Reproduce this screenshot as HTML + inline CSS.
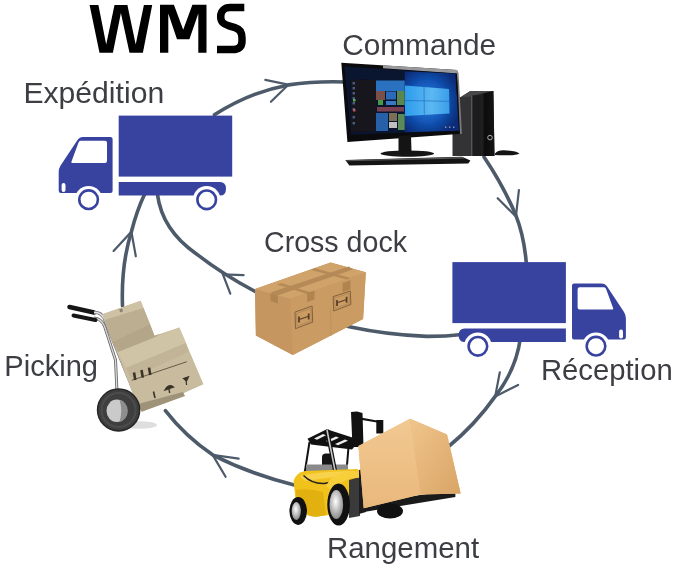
<!DOCTYPE html>
<html><head><meta charset="utf-8">
<style>
html,body{margin:0;padding:0;background:#fff;width:677px;height:569px;overflow:hidden}
svg{display:block;will-change:transform}
.lbl{font-family:"Liberation Sans",sans-serif;font-size:29px;fill:#3d3e43}
.arc{fill:none;stroke:#4d5a6a;stroke-width:3.6;stroke-linecap:round}
.barb{fill:none;stroke:#4d5a6a;stroke-width:2.2;stroke-linecap:round}
</style></head>
<body>
<svg width="677" height="569" viewBox="0 0 677 569">
<defs>
  <g id="truck">
    <rect x="118.7" y="115.6" width="113.5" height="61" fill="#3843a0"/>
    <path d="M118.7 182 H220 Q226 182 226 188.7 Q226 195.5 220 195.5 H118.7 Z" fill="#3843a0"/>
    <path d="M112.6 139 Q112.6 136.9 110.5 136.9 H83 Q79.5 136.9 77.5 140 L60.6 165.5 Q58.7 168.5 58.7 172 V190.5 Q58.7 193 61 193 H110.5 Q112.6 193 112.6 191 Z" fill="#3843a0"/>
    <path d="M80.5 140.7 H105 Q107 140.7 107 142.7 V161 Q107 163 105 163 H73 Q70.5 163 71.8 160.7 L78.5 142.5 Q79.2 140.7 80.5 140.7 Z" fill="#fff"/>
    <rect x="61.6" y="183" width="3.9" height="9" rx="1.9" fill="#fff"/>
    <circle cx="88.6" cy="199.7" r="13.8" fill="#fff"/>
    <circle cx="206.7" cy="199.8" r="13.8" fill="#fff"/>
    <circle cx="88.6" cy="199.7" r="9.3" fill="#fff" stroke="#3843a0" stroke-width="2.6"/>
    <circle cx="206.7" cy="199.8" r="9.3" fill="#fff" stroke="#3843a0" stroke-width="2.6"/>
  </g>
</defs>

<!-- arcs -->
<path class="arc" d="M214.4 114.8 Q250 92 288.6 84.9 Q315 81 345 82"/>
<path class="barb" d="M265.3 79.9 L288.4 84.7 L270.9 101.8"/>

<path class="arc" d="M484 157 Q503 185 515.9 215.3 Q524 236 526.2 262"/>
<path class="barb" d="M497.7 198.2 L515.9 216.5 L518.9 190.2"/>

<path class="arc" d="M520.4 338 Q516 370 495.2 396.4 Q475 425 448 447"/>
<path class="barb" d="M499.8 372.3 L495.2 396.4 L518.1 384.9"/>

<path class="arc" d="M296 485.5 Q250 474 212.6 454.8 Q185 436 165.4 410.6"/>
<path class="barb" d="M238.7 458.6 L212.6 454.8 L225.6 476.8"/>

<path class="arc" d="M122.5 306 Q121 265 131.4 231.7 Q137 210 144.7 194"/>
<path class="barb" d="M113.6 250.9 L131.4 231.7 L135.8 256.2"/>

<path class="arc" d="M157.4 194 Q162 230 196.4 253.9 Q222 274 256 292"/>
<path class="barb" d="M243.6 275.1 L222.9 274.5 L230.3 293.7"/>

<path class="arc" d="M348 326.5 Q388 335 426.8 336.4 Q445 336.5 462 334.5"/>


<!-- computer -->
<defs>
  <radialGradient id="desk" cx="0.42" cy="0.5" r="0.6">
    <stop offset="0" stop-color="#2a8ae0"/>
    <stop offset="0.55" stop-color="#1356b8"/>
    <stop offset="1" stop-color="#082c78"/>
  </radialGradient>
  <linearGradient id="logo" x1="0" y1="0" x2="1" y2="0">
    <stop offset="0" stop-color="#2c9cec"/>
    <stop offset="0.6" stop-color="#5cb8f2"/>
    <stop offset="1" stop-color="#3a9ee8"/>
  </linearGradient>
  <linearGradient id="towerfront" x1="0" y1="0" x2="1" y2="0">
    <stop offset="0" stop-color="#2a2a2c"/>
    <stop offset="0.45" stop-color="#222"/>
    <stop offset="0.6" stop-color="#0c0c0c"/>
    <stop offset="1" stop-color="#151515"/>
  </linearGradient>
</defs>
<filter id="soft" x="-5%" y="-5%" width="110%" height="110%"><feGaussianBlur stdDeviation="0.6"/></filter>
<clipPath id="scr"><polygon points="344.4,66.4 455.5,73.5 459,130.7 351,134.8"/></clipPath>
<g id="computer">
  <!-- tower -->
  <polygon points="452.5,100 461.2,96.8 470.4,90.9 493.4,90.9 494.5,156 452.5,156" fill="#333335"/>
  <polygon points="461.2,96.8 470.4,90.9 493.4,90.9 484,96.8" fill="#48484a"/>
  <polygon points="471,96 493.4,90.9 494.5,156 471,156" fill="url(#towerfront)"/>
  <rect x="471" y="96" width="1.6" height="60" fill="#555"/>
  <rect x="472.6" y="95.5" width="8" height="60.5" fill="#1c1c1e"/>
  <circle cx="490" cy="137.6" r="2.3" fill="none" stroke="#aaa" stroke-width="1"/>
  <path d="M495 153.5 Q498 150 504 150.3 Q516 150.5 519.5 153.5 Q517 155.5 505 155.3 Q499 155.3 495 155 Z" fill="#141414"/>
  <!-- monitor -->
  <polygon points="341.3,62.7 457,70.1 462,133.8 347.4,142" fill="#0b0b0d"/>
  <polygon points="383,65.2 457,70.1 458.5,73.5 383,68.2" fill="#9a9a9e"/>
  <polygon points="457,70.1 458.5,73.5 462,133.8 460,134" fill="#7a7a7e"/>
  <polygon points="344.4,66.4 455.5,73.5 459,130.7 351,134.8" fill="#0a1530"/>
  <g filter="url(#soft)" clip-path="url(#scr)">
  <polygon points="404.7,71.5 455.5,73.5 459,130.7 404.7,132.2" fill="url(#desk)"/>
  <polygon points="405,85.5 449,89 449.5,113.5 405,116" fill="url(#logo)"/>
  <path d="M405 100.5 L449.3 101.3 M424 87 L424.3 114.8" stroke="#1a5fb0" stroke-width="0.8" opacity="0.7"/>
  <polygon points="350.7,79.6 376,80 376,131.5 351,132" fill="#15121a"/>
  <rect x="376" y="80.5" width="28.7" height="10.5" fill="#2a72c0"/>
  <rect x="376" y="91" width="9" height="9" fill="#7a5048"/>
  <rect x="378" y="100" width="5" height="5" fill="#4a9a44"/>
  <rect x="386" y="91.5" width="10" height="8" fill="#2a6ab8"/>
  <rect x="397" y="91" width="7.7" height="14" fill="#5a8650"/>
  <rect x="386" y="101" width="10" height="4" fill="#3a78c0"/>
  <rect x="377" y="107" width="27" height="4.5" fill="#7a4050"/>
  <rect x="376" y="113" width="12" height="18" fill="#2860a8"/>
  <rect x="389" y="113" width="8" height="8" fill="#7a7058"/>
  <rect x="389" y="122" width="8" height="6" fill="#c0c0c0"/>
  <rect x="398" y="114" width="6.7" height="16" fill="#5a8a58"/>
  <g fill="#5a7ab0" opacity="0.7">
    <rect x="352.5" y="82" width="2.5" height="2.5"/><rect x="352.5" y="87" width="2.5" height="2.5"/>
    <rect x="352.5" y="92" width="2.5" height="2.5"/><rect x="352.5" y="97" width="2.5" height="2.5"/>
    <rect x="352.5" y="102" width="2.5" height="2.5"/><rect x="352.5" y="108" width="2.5" height="2.5"/>
    <rect x="352.5" y="116" width="2.5" height="2.5"/><rect x="352.5" y="122" width="2.5" height="2.5"/>
  </g>
  <rect x="353" y="99" width="2.5" height="2.5" fill="#5ab05a"/>
  <rect x="353" y="109" width="2.5" height="2.5" fill="#c05858"/>
  <g fill="#ccc" opacity="0.7"><rect x="445" y="126.5" width="1.4" height="1.4"/><rect x="449" y="126.5" width="1.4" height="1.4"/><rect x="453" y="126.5" width="1.4" height="1.4"/></g>
  </g>
  <!-- stand -->
  <polygon points="398.5,136 411,135 411.5,151.8 398.5,151.8" fill="#141414"/>
  <ellipse cx="407.3" cy="153.6" rx="26.8" ry="3.2" fill="#151515"/>
  <!-- keyboard -->
  <polygon points="345.3,160 462,156.8 470.4,160.5 468.3,163.5 349.4,165.5" fill="#141414"/>
  <polygon points="346,160.3 462,157.1 465,158.5 347,161.3" fill="#555"/>
</g>


<!-- cross dock box -->
<g id="xbox">
  <polygon points="255,289 330.6,262.6 365.8,272.3 363.1,318.9 292.8,355 255.9,335.6" fill="#c89962"/>
  <polygon points="255,289 290.2,298.7 292.8,355 255.9,335.6" fill="#c59660"/>
  <polygon points="290.2,298.7 365.8,272.3 363.1,318.9 292.8,355" fill="#ca9b63"/>
  <polygon points="255,289 330.6,262.6 365.8,272.3 290.2,298.7" fill="#d0a36b"/>
  <line x1="330.6" y1="308" x2="331" y2="336" stroke="#b88a55" stroke-width="0.6"/>
  <!-- long tape -->
  <polygon points="270.6,292.5 348.8,266.4 352.8,269.6 274.6,296.5" fill="#b68a56"/>
  <polygon points="270.3,293.4 277.8,295.8 277.9,303.5 270.6,301" fill="#b0844f"/>
  <!-- cross tapes -->
  <polygon points="276.9,284.5 281.3,283 315.2,293.8 310.9,295.3" fill="#b68a56"/>
  <polygon points="307.2,293 314.6,290.5 314.4,299.5 307.2,302" fill="#b0844f"/>
  <polygon points="310.5,269.7 314.9,268.2 350.8,278 346.4,279.6" fill="#b68a56"/>
  <polygon points="342.7,283 350.5,280.3 350.4,289.5 342.6,292.2" fill="#b0844f"/>
  <!-- labels -->
  <polygon points="295,312.1 312.1,306 312.7,322.1 295.5,328.7" fill="none" stroke="#7a5a38" stroke-width="0.9"/>
  <polygon points="296.5,313.5 310.8,308.3 311.3,320.8 297,326.3" fill="none" stroke="#9a7448" stroke-width="0.5"/>
  <path d="M299.2 319.5 L308.8 316.2" stroke="#5a4028" stroke-width="1.2"/>
  <path d="M299 316.5 V322.5 M308.7 313.5 V319.5" stroke="#5a4028" stroke-width="1.8"/>
  <polygon points="333.2,296.6 350.3,291.1 350.9,304.4 333.7,311" fill="none" stroke="#7a5a38" stroke-width="0.9"/>
  <polygon points="334.7,298 349,293.3 349.5,303.2 335.2,308.7" fill="none" stroke="#9a7448" stroke-width="0.5"/>
  <path d="M337.2 302.8 L346.8 299.5" stroke="#5a4028" stroke-width="1.2"/>
  <path d="M337 300 V306 M346.6 296.8 V302.8" stroke="#5a4028" stroke-width="1.8"/>
</g>

<!-- hand truck -->
<g id="handtruck">
  <ellipse cx="139" cy="425" rx="18" ry="3.8" fill="#dedede"/>
  <!-- back rail -->
  <path d="M94 318 Q101 318.5 104.5 326 L115.5 360 L117 392" fill="none" stroke="#6a6a6a" stroke-width="3"/>
  <path d="M94 318 Q101 318.5 104.5 326 L115.5 360 L117 392" fill="none" stroke="#d8d8d8" stroke-width="1.3"/>
  <!-- handles -->
  <path d="M69.5 307 L94 312.5" stroke="#161616" stroke-width="4.6" stroke-linecap="round"/>
  <path d="M73.5 315.5 L95.5 320" stroke="#161616" stroke-width="4" stroke-linecap="round"/>
  <!-- front rail -->
  <path d="M94 312.5 Q100.5 312 104 318 L139 404" fill="none" stroke="#777" stroke-width="3.2"/>
  <path d="M94 312.5 Q100.5 312 104 318 L139 404" fill="none" stroke="#e4e4e4" stroke-width="1.5"/>
  <!-- boxes -->
  <polygon points="102.5,314.3 140.6,300.8 154.5,335.7 179.3,327.5 203.5,384.3 141.7,411.8 136,402" fill="#c8bb9e"/>
  <polygon points="102.5,314.3 140.6,300.8 143.5,308 104.5,320" fill="#cec2a4"/>
  <polygon points="104.5,320 143.5,308 150,324 112,342" fill="#bcae90"/>
  <polygon points="112,342 150,324 154.5,335.7 160,333.7 130,355 118,352" fill="#b4a688"/>
  <polygon points="118,352 179.3,327.5 186,343 126,368" fill="#d0c4a6"/>
  <polygon points="126,368 186,343 188.5,352 131,378" fill="#c2b497"/>
  <polygon points="138,404 183,392 185,396 141.7,411.8" fill="#9e9278"/>
  <line x1="131.7" y1="380.3" x2="186.8" y2="361.7" stroke="#5a5040" stroke-width="0.9"/>
  <path d="M135.3 380 L134 372.5 M142.8 377.6 L141.5 370 M150.3 375 L149 367.6" stroke="#3a3428" stroke-width="2.6"/>
  <path d="M165 390 Q168.5 383.5 173.4 387 Z M169 388.5 L169.6 393" stroke="#3a3428" stroke-width="1.4" fill="#3a3428"/>
  <path d="M183.5 378.5 L188.5 376.8 L186.5 381 Z M186 380.5 L186.6 385" stroke="#3a3428" stroke-width="1.2" fill="#3a3428"/>
  <path d="M153.5 391.5 L155 398" stroke="#3a3428" stroke-width="1.6"/>
  <rect x="119.5" y="309" width="3" height="3" fill="#8a8070" transform="rotate(-20 121 310)"/>
  <!-- wheel -->
  <ellipse cx="118.6" cy="410" rx="21.1" ry="21" fill="#3e3e3e"/>
  <ellipse cx="118.6" cy="410" rx="17" ry="17" fill="none" stroke="#4c4c4c" stroke-width="2"/>
  <ellipse cx="118.6" cy="410" rx="21.1" ry="21" fill="none" stroke="#252525" stroke-width="1.4"/>
  <ellipse cx="116.8" cy="410.8" rx="10.3" ry="11.2" fill="#cacaca"/>
  <path d="M119.5 399.8 A10.3 11.2 0 0 1 119.5 421.8 Q123 410.8 119.5 399.8 Z" fill="#8e8e8e"/>
</g>

<!-- forklift -->
<defs>
  <linearGradient id="fkfront" x1="0" y1="0" x2="0" y2="1">
    <stop offset="0" stop-color="#f2c992"/>
    <stop offset="1" stop-color="#e9b87c"/>
  </linearGradient>
  <linearGradient id="fkside" x1="0" y1="0" x2="1" y2="1">
    <stop offset="0" stop-color="#f0c58b"/>
    <stop offset="1" stop-color="#d9a466"/>
  </linearGradient>
  <radialGradient id="hub" cx="0.45" cy="0.4" r="0.6">
    <stop offset="0" stop-color="#ffffff"/>
    <stop offset="1" stop-color="#8a8a8a"/>
  </radialGradient>
</defs>
<g id="forklift">
  <!-- mast -->
  <polygon points="351,412 357,411.5 362.5,413 363.5,447 352.5,447" fill="#111"/>
  <rect x="376.3" y="420" width="7" height="13.5" fill="#111"/>
  <polygon points="362,417.8 377,420.5 377,422.5 362,420" fill="#111"/>
  <!-- roof -->
  <polygon points="307.5,438.8 326.8,429.2 360,440 352,449.5 311,444.5" fill="#111"/>
  <polygon points="314,438.5 323,434 326,435.3 317,439.8" fill="#eee"/>
  <polygon points="326,441 336,436.5 339,437.8 329,442.3" fill="#eee"/>
  <polygon points="335,444 345,439.5 348,440.8 338,445.3" fill="#eee"/>
  <!-- posts -->
  <path d="M309.5 442 L304.5 474" stroke="#111" stroke-width="2"/>
  <path d="M348.5 447 L346.5 471" stroke="#111" stroke-width="2"/>
  <path d="M322 471 L322 457 Q322 453.5 326 453.5 L329 453.5 Q332 453.5 332 457 L332 471 Z" fill="#151515"/>
  <rect x="306" y="464.5" width="42" height="7" fill="#8a8a8a"/>
  <path d="M327 430 L335.5 473" stroke="#111" stroke-width="4"/>
  <path d="M327 430 L335.5 473" stroke="#c8c8c8" stroke-width="1.6"/>
  <!-- body -->
  <path d="M293.5 481 Q296 472.5 305 471 L357 469 L361 471.5 L361 508 Q340 514 318 516.5 Q308 517.5 303 511 L295.5 499 Z" fill="#f2c21c"/>
  <path d="M300 476 Q320 471 357 471 L358 475 Q330 477 305 481 Z" fill="#f7d24a"/>
  <path d="M295.5 490 L297 500 L303 511 Q308 517.5 318 516.5 L326 515 L323 492 Q310 488 295.5 490 Z" fill="#e2b110"/>
  <path d="M303.5 475.5 Q312 484 324 483.5 Q340 482 356 472.5" fill="none" stroke="#222" stroke-width="1.5"/>
  <path d="M349 480 L360 477 L360 516 L349 518 Z" fill="#3a3a3a"/>
  <path d="M326 486 Q333 472 350 472 L360 472 L360 478 Q352 477 346 480 Q338 484 334 492 Z" fill="#f6cf3a"/>
  <!-- wheels -->
  <ellipse cx="298.2" cy="511" rx="8.8" ry="13.9" fill="#111"/>
  <ellipse cx="296.3" cy="511" rx="4.6" ry="9" fill="url(#hub)"/>
  <ellipse cx="338.6" cy="504.5" rx="11.3" ry="21" fill="#111"/>
  <ellipse cx="336.3" cy="504.5" rx="6.8" ry="14.5" fill="url(#hub)"/>
  <!-- under carriage -->
  <polygon points="359,470 366,468 366,512 359,514" fill="#1c1c1c"/>
  <polygon points="363.7,503 455.4,490 455.4,497 363.7,512" fill="#1a1a1a"/>
  <ellipse cx="390" cy="511" rx="13" ry="7.5" fill="#111"/>
  <!-- box -->
  <polygon points="358.4,446.1 410.1,418.7 447,434.5 460.7,493.6 420.6,494.6 363.7,508.3" fill="#e6b77c"/>
  <polygon points="358.4,446.1 410.1,418.7 420.6,494.6 363.7,508.3" fill="url(#fkfront)"/>
  <polygon points="410.1,418.7 447,434.5 460.7,493.6 420.6,494.6" fill="url(#fkside)"/>
</g>

<!-- trucks -->
<use href="#truck"/>
<use href="#truck" transform="translate(684.6 146.5) scale(-1 1)"/>

<!-- WMS -->
<polygon fill="#000" points="89.6,5 98.4,5 106.2,44.5 114.5,5 127.4,5 135.7,44.5 143.9,5 152.2,5 142.9,52.7 129.5,52.7 120.9,13 112.9,52.7 99.5,52.7"/>
<polygon fill="#000" points="160,4.8 173.9,4.8 183.2,29.8 192.4,4.8 206.5,4.8 206.5,52.8 198.3,52.8 198.3,13.5 189.4,39.2 177,39.2 168.3,13.5 168.3,52.8 160,52.8"/>
<path d="M244.3 7.6 L230 7.6 C224.5 7.6 220.7 11 220.7 16.5 C220.7 22 223 24 229 25.8 L235 27.6 C240 29 242 32.5 242 38 L242 41.5 C242 47 238.5 49.5 233 49.5 L217 49.5" fill="none" stroke="#000" stroke-width="7.5"/>

<!-- labels -->
<text class="lbl" x="23.4" y="103.2" textLength="140.8" lengthAdjust="spacingAndGlyphs">Expédition</text>
<text class="lbl" x="342.2" y="54.5" textLength="154" lengthAdjust="spacingAndGlyphs">Commande</text>
<text class="lbl" x="264" y="251.7" textLength="143" lengthAdjust="spacingAndGlyphs">Cross dock</text>
<text class="lbl" x="4.3" y="375.8" textLength="93.7" lengthAdjust="spacingAndGlyphs">Picking</text>
<text class="lbl" x="540.9" y="379.6" textLength="131.8" lengthAdjust="spacingAndGlyphs">Réception</text>
<text class="lbl" x="327" y="557.5" textLength="152.1" lengthAdjust="spacingAndGlyphs">Rangement</text>
</svg>
</body></html>
